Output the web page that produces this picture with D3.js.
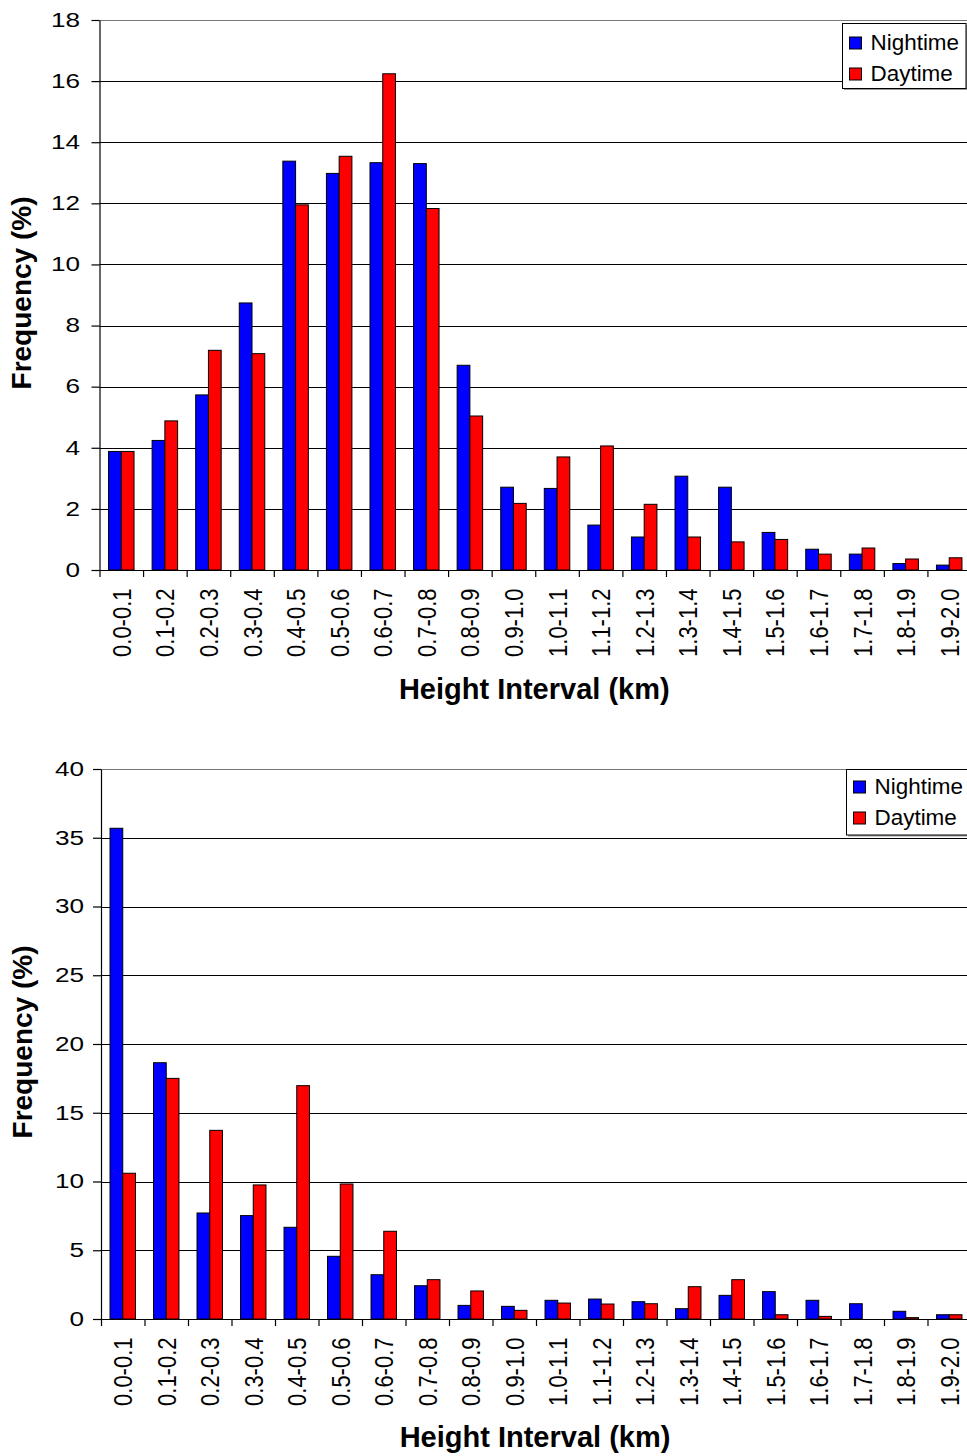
<!DOCTYPE html>
<html>
<head>
<meta charset="utf-8">
<script src="https://cdn.jsdelivr.net/npm/d3@7"></script>
<style>
  html, body { margin: 0; padding: 0; background: #fff; }
  svg { display: block; font-family: "Liberation Sans", Arial, sans-serif; }
</style>
</head>
<body>
<svg id="chart" width="967" height="1456"></svg>
<script>
// ---------- DATA ----------
const categories = ["0.0-0.1","0.1-0.2","0.2-0.3","0.3-0.4","0.4-0.5","0.5-0.6","0.6-0.7","0.7-0.8","0.8-0.9","0.9-1.0",
                    "1.0-1.1","1.1-1.2","1.2-1.3","1.3-1.4","1.4-1.5","1.5-1.6","1.6-1.7","1.7-1.8","1.8-1.9","1.9-2.0"];
const seriesNames = ["Nightime", "Daytime"];
const seriesColors = ["#0000FF", "#FF0000"];

const topNight = [3.88, 4.24, 5.73, 8.74, 13.38, 12.98, 13.33, 13.30, 6.70, 2.71, 2.67, 1.47, 1.08, 3.07, 2.71, 1.23, 0.68, 0.52, 0.21, 0.16];
const topDay   = [3.88, 4.88, 7.19, 7.08, 11.95, 13.54, 16.24, 11.83, 5.04, 2.18, 3.70, 4.06, 2.15, 1.08, 0.92, 1.00, 0.52, 0.72, 0.36, 0.40];
const botNight = [35.69, 18.64, 7.71, 7.52, 6.67, 4.56, 3.22, 2.42, 0.99, 0.92, 1.36, 1.45, 1.26, 0.75, 1.72, 1.99, 1.36, 1.11, 0.56, 0.31];
const botDay   = [10.60, 17.50, 13.72, 9.75, 16.97, 9.82, 6.38, 2.86, 2.04, 0.63, 1.16, 1.09, 1.11, 2.35, 2.86, 0.31, 0.19, 0.00, 0.10, 0.31];

const topYTicks = [0, 2, 4, 6, 8, 10, 12, 14, 16, 18];
const botYTicks = [0, 5, 10, 15, 20, 25, 30, 35, 40];

const xTitle = "Height Interval (km)";
const yTitle = "Frequency (%)";

// ---------- DRAW ----------
const svg = d3.select("#chart");

function drawChart(opt) {
  const g = svg.append("g");
  const x = d3.scaleBand().domain(categories).range([opt.x0, opt.x1]).padding(0);
  const groupW = x.bandwidth() * 0.585;
  const xs = d3.scaleBand().domain(seriesNames)
    .range([(x.bandwidth() - groupW) / 2, (x.bandwidth() + groupW) / 2]);
  const y = d3.scaleLinear().domain([0, opt.yMax]).range([opt.yBottom, opt.yTop]);
  const xLin = d3.scaleLinear().domain([0, categories.length]).range([opt.x0, opt.x1]);

  // gridlines
  g.selectAll("line.grid").data(opt.yTicks.filter(v => v > 0)).join("line")
    .attr("class", "grid")
    .attr("x1", opt.x0).attr("x2", opt.x1)
    .attr("y1", v => Math.round(y(v)) + 0.5).attr("y2", v => Math.round(y(v)) + 0.5)
    .attr("stroke", v => v === opt.yMax ? "#777" : "#000").attr("stroke-width", 1);

  // bars
  const data = [];
  categories.forEach((c, i) => {
    opt.series.forEach((arr, s) => data.push({ c, s, v: arr[i] }));
  });
  g.selectAll("rect.bar").data(data.filter(d => d.v > 0)).join("rect")
    .attr("class", "bar")
    .attr("x", d => x(d.c) + xs(seriesNames[d.s]))
    .attr("width", xs.bandwidth())
    .attr("y", d => y(d.v))
    .attr("height", d => y(0) - y(d.v))
    .attr("fill", d => seriesColors[d.s])
    .attr("stroke", "#000").attr("stroke-width", 1);

  // y axis
  const yAx = g.append("g").attr("transform", `translate(${opt.x0},0)`)
    .call(d3.axisLeft(y).tickValues(opt.yTicks).tickSize(8).tickSizeOuter(0).tickFormat(""));
  yAx.selectAll("path,line").attr("stroke", "#000").attr("stroke-width", 1.2);

  // x axis
  const xAx = g.append("g").attr("transform", `translate(0,${opt.yBottom})`)
    .call(d3.axisBottom(xLin).ticks(categories.length).tickSize(7).tickSizeOuter(0).tickFormat(""));
  xAx.selectAll("path,line").attr("stroke", "#000").attr("stroke-width", 1.2);

  // y tick labels
  g.selectAll("text.ytl").data(opt.yTicks).join("text")
    .attr("class", "ytl")
    .attr("transform", v => `translate(${opt.yLabelX},${y(v)}) scale(1.34,1)`)
    .attr("dy", "0.35em")
    .attr("text-anchor", "end")
    .attr("font-size", 19.5)
    .attr("fill", "#000")
    .text(v => v);

  // x tick labels
  g.selectAll("text.xtl").data(categories).join("text")
    .attr("class", "xtl")
    .attr("transform", c => `translate(${x(c) + x.bandwidth() / 2},${opt.yBottom + 18.5}) scale(1.2,1) rotate(-90)`)
    .attr("dy", "0.36em")
    .attr("text-anchor", "end")
    .attr("font-size", 22)
    .attr("fill", "#000")
    .text(c => c);

  // axis titles
  g.append("text")
    .attr("x", (opt.x0 + opt.x1) / 2 - 1).attr("y", opt.xTitleY)
    .attr("text-anchor", "middle").attr("font-size", 29).attr("font-weight", "bold")
    .text(xTitle);
  g.append("text")
    .attr("transform", `translate(${opt.yTitleX},${opt.yTitleY}) rotate(-90)`)
    .attr("text-anchor", "middle").attr("font-size", 28).attr("font-weight", "bold")
    .text(yTitle);

  // legend
  const L = opt.legend;
  g.append("rect").attr("x", L.x + 1.5).attr("y", L.y + 1.5).attr("width", L.w).attr("height", L.h)
    .attr("fill", "#999");
  g.append("rect").attr("x", L.x).attr("y", L.y).attr("width", L.w).attr("height", L.h)
    .attr("fill", "#fff").attr("stroke", "#000").attr("stroke-width", 1);
  seriesNames.forEach((name, i) => {
    const sy = L.y + L.sq0 + i * 31;
    g.append("rect").attr("x", L.x + 7).attr("y", sy).attr("width", 12).attr("height", 12)
      .attr("fill", seriesColors[i]).attr("stroke", "#000").attr("stroke-width", 1);
    g.append("text")
      .attr("transform", `translate(${L.x + 28},${sy + 13}) scale(1.02,1)`)
      .attr("font-size", 22).attr("fill", "#000")
      .text(name);
  });
}

drawChart({
  x0: 99.5, x1: 971, yTop: 20, yBottom: 570, yMax: 18, yTicks: topYTicks,
  series: [topNight, topDay], yLabelX: 80, xTitleY: 698.5, yTitleX: 30.5, yTitleY: 293,
  legend: { x: 842.5, y: 23.5, w: 123.5, h: 65, sq0: 13.5 }
});
drawChart({
  x0: 101, x1: 971, yTop: 769, yBottom: 1319, yMax: 40, yTicks: botYTicks,
  series: [botNight, botDay], yLabelX: 84, xTitleY: 1447, yTitleX: 32, yTitleY: 1042,
  legend: { x: 846.5, y: 769.5, w: 130, h: 65.5, sq0: 11.5 }
});
</script>
</body>
</html>
